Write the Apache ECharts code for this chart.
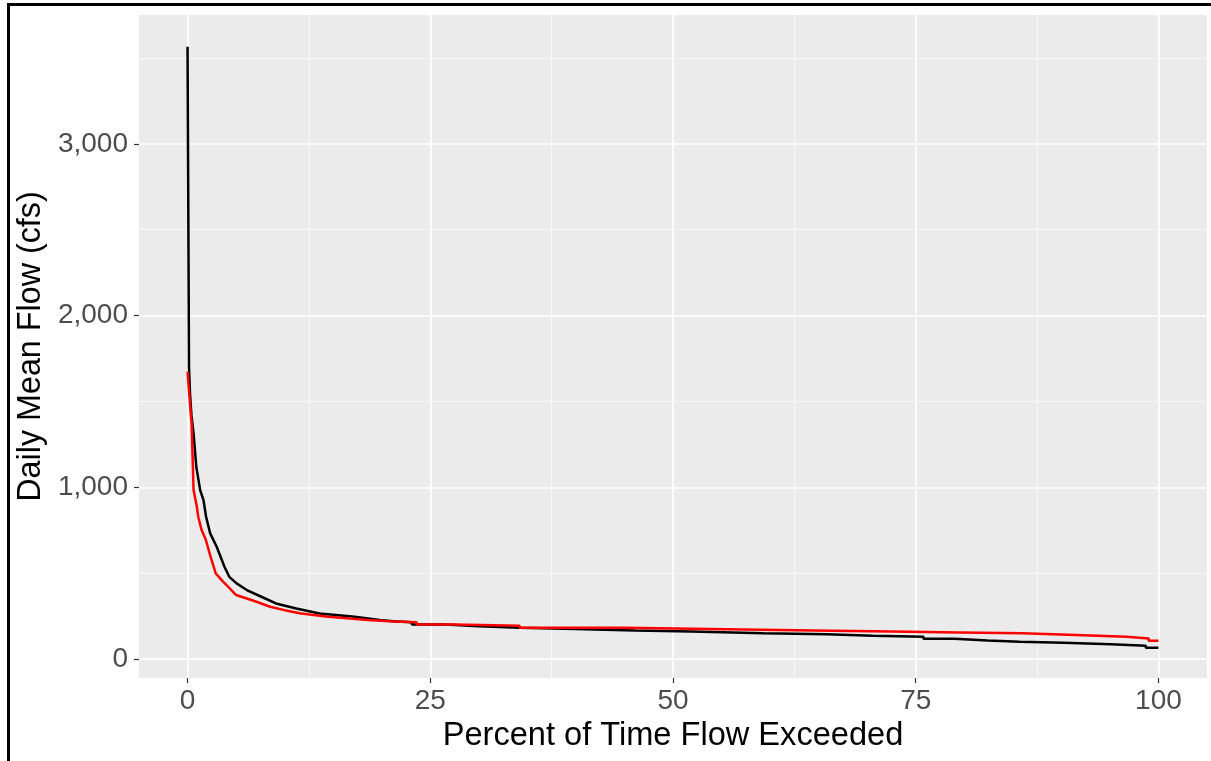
<!DOCTYPE html>
<html>
<head>
<meta charset="utf-8">
<title>Flow Duration Curve</title>
<script src="https://cdn.jsdelivr.net/npm/echarts@6/dist/echarts.min.js"></script>
<style>
  html, body { margin: 0; padding: 0; background: #ffffff; }
  #chart { width: 1211px; height: 761px; }
</style>
</head>
<body>
<div id="chart"></div>
<script>
// Flow duration curves: percent of time exceeded vs daily mean flow (cfs)
const blackPct = [0, 0.1, 0.12, 0.15, 0.25, 0.4, 0.62, 0.9, 1.3, 1.64, 1.91, 2.33, 3.0, 3.8, 4.3, 5.05, 6.1, 7.6, 9.1, 11.2, 13.6, 17.2, 19.8,
  21.2, 21.2, 23.1, 23.1, 26.5, 26.5, 30.0, 30.0, 34.2, 34.2, 39.9, 39.9, 46.1, 46.1, 51.9, 51.9, 59.3, 59.3, 65.8, 65.8, 70.6, 70.6,
  75.8, 75.8, 79.0, 79.0, 82.4, 82.4, 85.7, 85.7, 90.2, 90.2, 95.1, 95.1, 98.7, 98.7, 100];
const blackFlow = [3565, 3560, 2100, 1700, 1550, 1420, 1314, 1120, 984, 926, 829, 732, 654, 538, 479, 441, 402, 363, 324, 295, 266, 246, 228,
  221, 214, 214, 202, 202, 192, 192, 182, 182, 175, 175, 167, 167, 161, 161, 151, 151, 144, 144, 136, 136, 130,
  130, 118, 118, 109, 109, 101, 101, 95, 95, 86, 86, 78, 78, 66, 66];

const redPct = [0, 0.1, 0.3, 0.42, 0.55, 0.62, 0.96, 1.1, 1.45, 1.89, 2.13, 2.37, 2.9, 3.68, 4.2, 5.0, 6.1, 7.1, 8.5, 10.0, 11.7, 14.5, 18.6,
  20.7, 20.7, 23.6, 23.6, 27.5, 27.5, 34.2, 34.2, 44.9, 44.9, 53.8, 53.8, 64.4, 64.4, 72.5, 72.5, 79.5, 79.5,
  86.0, 86.0, 91.5, 91.5, 96.7, 96.7, 99.0, 99.0, 100];
const redFlow = [1673, 1600, 1450, 1372, 1120, 984, 887, 829, 751, 693, 645, 596, 499, 450, 421, 373, 353, 334, 305, 285, 266, 246, 227,
  220, 214, 214, 202, 202, 194, 194, 182, 182, 175, 175, 167, 167, 161, 161, 155, 155, 150,
  150, 140, 140, 130, 130, 120, 120, 107, 107];

// Axis ticks and grid positions
const xTicks = [0, 25, 50, 75, 100];
const xMinor = [12.5, 37.5, 62.5, 87.5];
const yTicks = [0, 1000, 2000, 3000];
const yMinor = [500, 1500, 2500, 3500];

const FONT = '"Liberation Sans", Arial, sans-serif';

function pairs(xs, ys) {
  return xs.map((x, i) => [x, ys[i]]);
}

const majorStyle = { color: '#ffffff', width: 1.6, type: 'solid' };
const minorStyle = { color: '#f8f8f8', width: 1.0, type: 'solid' };
const gridLines = [];
xTicks.forEach(v => gridLines.push({ xAxis: v, lineStyle: majorStyle }));
xMinor.forEach(v => gridLines.push({ xAxis: v, lineStyle: minorStyle }));
yTicks.forEach(v => gridLines.push({ yAxis: v, lineStyle: majorStyle }));
yMinor.forEach(v => gridLines.push({ yAxis: v, lineStyle: minorStyle }));

const chart = echarts.init(document.getElementById('chart'), null, { renderer: 'canvas' });

chart.setOption({
  animation: false,
  backgroundColor: '#ffffff',
  textStyle: { fontFamily: FONT },
  grid: {
    left: 139, top: 15, right: 4, bottom: 83,
    show: true, backgroundColor: '#EBEBEB', borderWidth: 0
  },
  graphic: [{
    type: 'polyline',
    shape: { points: [[8.5, 770], [8.5, 4.5], [1220, 4.5]] },
    style: { stroke: '#000000', lineWidth: 3, fill: null },
    z: 100
  }],
  xAxis: {
    type: 'value',
    min: -5, max: 105,
    name: 'Percent of Time Flow Exceeded',
    nameLocation: 'middle',
    nameGap: 40,
    nameTextStyle: { fontSize: 32.6, color: '#000000', fontFamily: FONT },
    axisLine: { show: false, onZero: false },
    axisTick: { show: true, customValues: xTicks, length: 5, lineStyle: { color: '#333333', width: 1.2 } },
    axisLabel: { customValues: xTicks, fontSize: 28, color: '#4D4D4D', margin: 9, fontFamily: FONT },
    splitLine: { show: false }
  },
  yAxis: {
    type: 'value',
    min: -110, max: 3750,
    name: 'Daily Mean Flow (cfs)',
    nameLocation: 'middle',
    nameRotate: 90,
    nameGap: 89,
    nameTextStyle: { fontSize: 32.3, color: '#000000', fontFamily: FONT },
    axisLine: { show: false, onZero: false },
    axisTick: { show: true, customValues: yTicks, length: 5, lineStyle: { color: '#333333', width: 1.2 } },
    axisLabel: {
      customValues: yTicks, fontSize: 28, color: '#4D4D4D', margin: 11, fontFamily: FONT,
      formatter: v => v.toLocaleString('en-US')
    },
    splitLine: { show: false }
  },
  series: [
    {
      type: 'line',
      data: [],
      silent: true,
      z: 1,
      markLine: {
        z: 1,
        silent: true,
        symbol: ['none', 'none'],
        label: { show: false },
        emphasis: { disabled: true },
        animation: false,
        data: gridLines
      }
    },
    {
      name: 'black',
      type: 'line',
      data: pairs(blackPct, blackFlow),
      showSymbol: false,
      lineStyle: { color: '#000000', width: 2.5 },
      z: 3
    },
    {
      name: 'red',
      type: 'line',
      data: pairs(redPct, redFlow),
      showSymbol: false,
      lineStyle: { color: '#FF0000', width: 2.5 },
      z: 4
    }
  ]
});
</script>
</body>
</html>
